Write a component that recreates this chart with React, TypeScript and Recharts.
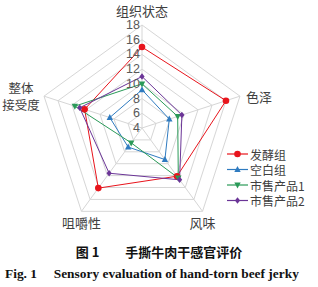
import React from 'react';
import { RadarChart, Radar, PolarGrid, PolarAngleAxis, PolarRadiusAxis, Legend } from 'recharts';

const subjects = ['组织状态', '色泽', '风味', '咀嚼性', '整体接受度'];
const fermented = [15, 16, 12.1, 14.1, 12.2];
const blank = [9.2, 7.9, 9.3, 7.2, 8.6];
const market1 = [10, 9.1, 12.4, 6.5, 13.6];
const market2 = [11, 9.7, 12.7, 11.6, 12.9];
const radiusTicks = [4, 6, 8, 10, 12, 14, 16, 18];
const seriesNames = ['发酵组', '空白组', '市售产品1', '市售产品2'];
const seriesKeys = ['fermented', 'blank', 'market1', 'market2'];
const seriesColors = ['#e8141c', '#2f7bc0', '#2a9a58', '#6b3597'];

const data = subjects.map((s, i) => ({
  subject: s,
  fermented: fermented[i],
  blank: blank[i],
  market1: market1[i],
  market2: market2[i],
}));

const CJK = '"Noto Sans CJK SC", "Noto Sans", sans-serif';

function Marker({ kind, x, y, color }: { kind: number; x: number; y: number; color: string }) {
  if (kind === 0) return <circle cx={x} cy={y} r={3.3} fill={color} stroke="none" />;
  if (kind === 1)
    return <polygon points={`${x},${y - 3.6} ${x + 3.2},${y + 2.4} ${x - 3.2},${y + 2.4}`} fill={color} />;
  if (kind === 2)
    return <polygon points={`${x},${y + 3.6} ${x + 3.2},${y - 2.4} ${x - 3.2},${y - 2.4}`} fill={color} />;
  return <polygon points={`${x},${y - 3.2} ${x + 2.6},${y} ${x},${y + 3.2} ${x - 2.6},${y}`} fill={color} />;
}

const makeDot = (kind: number, color: string) => (props: any) => {
  const { cx, cy, index } = props;
  if (cx == null || cy == null) return <g key={`d-${kind}-${index}`} />;
  return (
    <g key={`d-${kind}-${index}`}>
      <Marker kind={kind} x={cx} y={cy} color={color} />
    </g>
  );
};

const RAD = Math.PI / 180;

const AngleTick = (props: any) => {
  const { cx, cy, radius, payload } = props;
  const ang = payload.coordinate;
  const vx = cx + Math.cos(-ang * RAD) * radius;
  const vy = cy + Math.sin(-ang * RAD) * radius;
  const label: string = payload.value;
  const common = { fill: '#404040', fontSize: 13, fontFamily: CJK };
  if (label === '组织状态')
    return (
      <text x={vx} y={vy - 15} textAnchor="middle" dominantBaseline="central" {...common}>
        {label}
      </text>
    );
  if (label === '色泽')
    return (
      <text x={vx + 6} y={vy} textAnchor="start" dominantBaseline="central" {...common}>
        {label}
      </text>
    );
  if (label === '整体接受度')
    return (
      <g>
        <text x={vx - 23} y={vy - 8.5} textAnchor="middle" dominantBaseline="central" {...common} fontSize={12.5}>
          整体
        </text>
        <text x={vx - 23} y={vy + 8.5} textAnchor="middle" dominantBaseline="central" {...common} fontSize={12.5}>
          接受度
        </text>
      </g>
    );
  return (
    <text x={vx} y={vy + 11} textAnchor="middle" dominantBaseline="central" {...common}>
      {label}
    </text>
  );
};

const RadiusTick = (props: any) => {
  const { x, y, payload } = props;
  return (
    <text
      x={x - 2}
      y={y}
      textAnchor="end"
      dominantBaseline="central"
      fill="#595959"
      fontSize={12.5}
      fontFamily='"Liberation Sans", Arial, sans-serif'
    >
      {payload.value}
    </text>
  );
};

const LegendContent = () => (
  <svg width={92} height={66}>
    {seriesNames.map((n, i) => {
      const y = 8 + i * 15.5;
      return (
        <g key={n}>
          <line x1={1} x2={22} y1={y} y2={y} stroke={seriesColors[i]} strokeWidth={1.2} />
          <Marker kind={i} x={11.5} y={y} color={seriesColors[i]} />
          <text x={24} y={y} dominantBaseline="central" fontSize={12} fill="#404040" fontFamily={CJK}>
            {n}
          </text>
        </g>
      );
    })}
  </svg>
);

export default function App() {
  return (
    <div style={{ position: 'absolute', left: 0, top: 0, width: 318, height: 287, background: '#fff' }}>
      <RadarChart
        width={318}
        height={238}
        data={data}
        cx={142}
        cy={128}
        outerRadius={103}
        margin={{ top: 0, right: 0, bottom: 0, left: 0 }}
      >
        <PolarGrid gridType="polygon" stroke="#d6d6d6" strokeWidth={1} />
        <PolarAngleAxis dataKey="subject" tick={AngleTick} tickLine={false} axisLine={false} />
        <PolarRadiusAxis
          angle={90}
          domain={[4, 18]}
          ticks={radiusTicks as any}
          tickCount={8}
          axisLine={false}
          tickLine={false}
          tick={RadiusTick}
        />
        {seriesKeys.map((k, i) => (
          <Radar
            key={k}
            name={seriesNames[i]}
            dataKey={k}
            stroke={seriesColors[i]}
            strokeWidth={1}
            fill="none"
            fillOpacity={0}
            dot={makeDot(i, seriesColors[i])}
            isAnimationActive={false}
          />
        ))}
        <Legend
          layout="vertical"
          content={LegendContent}
          wrapperStyle={{ position: 'absolute', left: 226, top: 146, width: 92 }}
        />
      </RadarChart>
      <div
        style={{
          position: 'absolute',
          left: 0,
          top: 243,
          width: 318,
          textAlign: 'center',
          fontFamily: '"Noto Sans CJK SC", serif',
          fontWeight: 700,
          fontSize: 13,
          lineHeight: '18px',
          color: '#111',
          whiteSpace: 'pre',
        }}
      >
        {'图 1　　手撕牛肉干感官评价'}
      </div>
      <div
        style={{
          position: 'absolute',
          left: 5,
          top: 265,
          fontFamily: '"Liberation Serif", "Times New Roman", serif',
          fontWeight: 700,
          fontSize: 13.4,
          lineHeight: '18px',
          color: '#111',
          whiteSpace: 'pre',
        }}
      >
        {'Fig. 1     Sensory evaluation of hand-torn beef jerky'}
      </div>
    </div>
  );
}
